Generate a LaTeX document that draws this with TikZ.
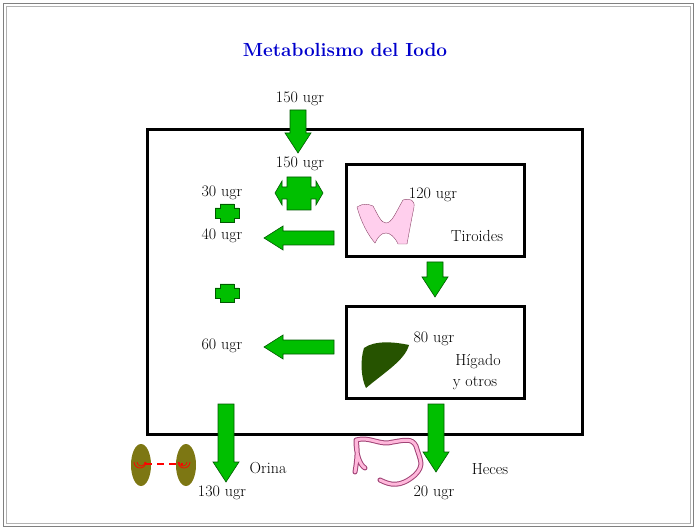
\documentclass[tikz,border=0pt]{standalone}
\begin{document}
\begin{tikzpicture}[x=1pt,y=-1pt,
  blk/.style={fill=green!75!black, draw=green!35!black, line width=0.6pt},
  lbl/.style={font=\fontsize{16}{18}\selectfont, inner sep=1pt},
  frame/.style={draw=black, line width=3pt}]
\newcommand{\darr}[3]{\fill[blk] (#1-8,#2) -- (#1+8,#2) -- (#1+8,#3-20) -- (#1+13,#3-20) -- (#1,#3) -- (#1-13,#3-20) -- (#1-8,#3-20) -- cycle;}
\newcommand{\larr}[3]{\fill[blk] (#2,#1-7) -- (#2,#1+7) -- (#3+19,#1+7) -- (#3+19,#1+12) -- (#3,#1) -- (#3+19,#1-12) -- (#3+19,#1-7) -- cycle;}
\newcommand{\plusblk}[2]{\fill[blk] (#1-7,#2-9) -- (#1+7,#2-9) -- (#1+7,#2-5) -- (#1+12,#2-5) -- (#1+12,#2+5) -- (#1+7,#2+5) -- (#1+7,#2+9) -- (#1-7,#2+9) -- (#1-7,#2+5) -- (#1-12,#2+5) -- (#1-12,#2-5) -- (#1-7,#2-5) -- cycle;}
\useasboundingbox (0,0) rectangle (696,529);
\draw[gray, line width=0.8pt] (3,3) rectangle (693,526);
\draw[gray!60, line width=0.5pt] (6,6) rectangle (690,523);
\node[font=\fontsize{19}{21}\selectfont\bfseries, text=blue!80!black] (title) at (345,50) {Metabolismo del Iodo};
\draw[frame] (147,130) rectangle (582,434);
\node[draw, line width=3pt, minimum width=178pt, minimum height=92pt] (tir) at (435,211) {};
\node[draw, line width=3pt, minimum width=178pt, minimum height=91pt] (hig) at (435,352.5) {};
% top arrow
\node[lbl] (t150) at (300,99) {150 ugr};
\darr{298}{110}{153}
\node[lbl] (i150) at (300,164) {150 ugr};
% cross double arrow
\fill[blk] (287,177) -- (311,177) -- (311,187) -- (316,187) -- (316,181) -- (323,193) -- (316,205) -- (316,199) -- (311,199) -- (311,210) -- (287,210) -- (287,199) -- (282,199) -- (282,205) -- (275,193) -- (282,181) -- (282,187) -- (287,187) -- cycle;
\node[lbl] (a30) at (222,193) {30 ugr};
\plusblk{227}{213}
\node[lbl] (a40) at (222,236) {40 ugr};
\larr{238}{334}{264}
\plusblk{227}{293}
\node[lbl] (a60) at (222,346) {60 ugr};
\larr{347}{334}{264}
% thyroid
\node[lbl] (t120) at (433,195) {120 ugr};
\node[lbl] (tirl) at (477,236) {Tiroides};
\fill[pink!70!magenta!40, draw=magenta!50!black, line width=0.4pt] (357,207) .. controls (363,203) and (368,204) .. (373,206) .. controls (378,215) and (381,223) .. (386,223) .. controls (392,223) and (396,212) .. (403,200) .. controls (410,198) and (415,200) .. (414,207) .. controls (411,222) and (409,233) .. (407,244) -- (398,244) .. controls (395,237) and (390,233) .. (386,233) .. controls (381,233) and (378,237) .. (375,243) .. controls (368,235) and (361,222) .. cycle;
\darr{435}{262}{297}
% liver
\node[lbl] (h80) at (434,339) {80 ugr};
\node[lbl] (higl) at (478,362) {Hígado};
\node[lbl] (yot) at (475,383) {y otros};
\fill[green!25!black!70!olive] (364,348) .. controls (375,340) and (395,342) .. (409,345) .. controls (405,360) and (385,372) .. (366,388) .. controls (361,378) and (360,360) .. cycle;
% bottom arrows
\darr{226}{404}{482}
\node[lbl] (orina) at (268,468) {Orina};
\node[lbl] (o130) at (222,493) {130 ugr};
\darr{436}{404}{472}
\node[lbl] (heces) at (490,469) {Heces};
\node[lbl] (h20) at (434,493) {20 ugr};
% kidneys
\fill[olive!85!black] (141,465) ellipse (10pt and 21pt);
\fill[olive!85!black] (186,465) ellipse (10pt and 21pt);
\draw[red, line width=2pt, dash pattern=on 7pt off 5pt] (145,464) -- (183,464);
\draw[red, line width=0.7pt] (134,462) arc (180:0:6 and 6) (137,462) arc (180:0:4 and 4) (190,462) arc (0:180:6 and 6) (187,462) arc (0:180:4 and 4);
% intestine
\draw[magenta!60!black, line width=5pt, line cap=round, line join=round] (355,472) .. controls (357,460) and (358,450) .. (356,440) .. controls (370,436) and (380,446) .. (393,442) .. controls (405,440) and (412,438) .. (416,446) .. controls (420,460) and (425,465) .. (415,475) .. controls (400,488) and (390,485) .. (380,480) (356,440) .. controls (356,455) and (360,465) .. (365,468);
\draw[pink!80!magenta!70, line width=3pt, line cap=round, line join=round] (355,472) .. controls (357,460) and (358,450) .. (356,440) .. controls (370,436) and (380,446) .. (393,442) .. controls (405,440) and (412,438) .. (416,446) .. controls (420,460) and (425,465) .. (415,475) .. controls (400,488) and (390,485) .. (380,480) (356,440) .. controls (356,455) and (360,465) .. (365,468);
\end{tikzpicture}
\end{document}
